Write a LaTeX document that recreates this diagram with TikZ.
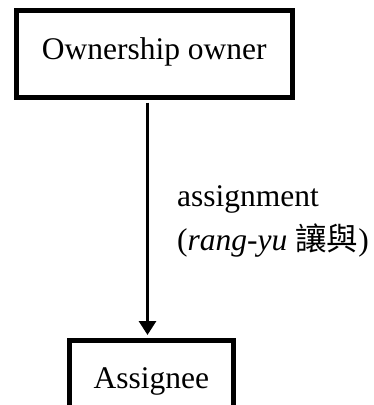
\documentclass[tikz,border=0pt]{standalone}
\usepackage{fontspec}
\setmainfont{Liberation Serif}
\newfontfamily\cjkfont{Noto Sans CJK TC}
\usetikzlibrary{arrows.meta}
\begin{document}
\begin{tikzpicture}[x=1pt,y=-1pt,
  thickbox/.style={draw=black,line width=5pt,inner xsep=0pt,inner ysep=0pt,
    anchor=base,font=\fontsize{31.5}{38}\selectfont},
  flow/.style={line width=3pt,-{Triangle[length=14pt,width=17pt]}},
  edgelabel/.style={anchor=base west,align=left,inner sep=0pt,
    font=\fontsize{31.5}{44}\selectfont}]
  \useasboundingbox (0,0) rectangle (374,405);
  % owner box (upper) and assignee box (running off the lower edge)
  \node[thickbox,minimum width=275.5pt,text height=48.5pt,text depth=38.5pt]
    (owner) at (154.25,59) {Ownership owner};
  \node[thickbox,minimum width=163.5pt,text height=48pt,text depth=32pt]
    (assignee) at (151.25,388) {Assignee};
  % vertical transfer arrow
  \coordinate (axis) at (147.5,0);
  \draw[flow,shorten <=2.5pt,shorten >=2.5pt]
    (owner.south -| axis) -- (assignee.north -| axis);
  % two-line label; the base anchor sits on the last line
  \node[edgelabel] (lbl) at (177,250)
    {assignment\\(\textit{rang-yu} {\cjkfont 讓與})};
\end{tikzpicture}
\end{document}
